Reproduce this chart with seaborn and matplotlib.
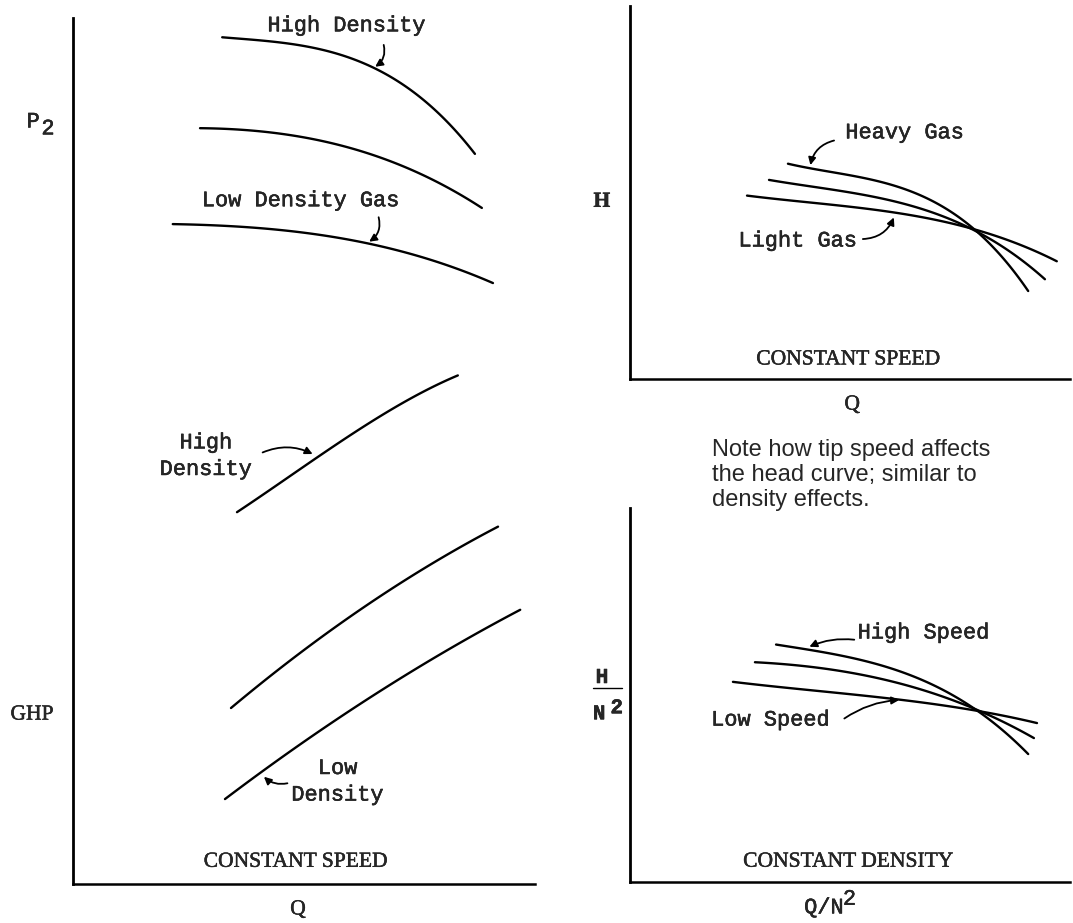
import numpy as np
import pandas as pd
import matplotlib
matplotlib.use('Agg')
import matplotlib.pyplot as plt
import matplotlib.patheffects as pe
import seaborn as sns

# ------------------------------------------------------------
# Data (schematic curves, 0-100 per panel)
# ------------------------------------------------------------

# left panel, discharge pressure vs Q
p2_high_x = [32.3, 42.6, 53.5, 64.3, 71.4, 78.8, 87.0]
p2_high_y = [97.7, 97.5, 96.3, 94.3, 92.3, 89.4, 84.2]
p2_mid_x = [27.5, 42.6, 53.5, 64.3, 75.1, 88.5]
p2_mid_y = [87.3, 86.7, 85.9, 84.4, 81.9, 78.1]
p2_low_x = [21.6, 39.0, 53.5, 64.3, 75.1, 90.9]
p2_low_y = [76.2, 75.8, 74.9, 74.0, 72.4, 69.4]

# left panel, gas horsepower vs Q
ghp_high_x = [35.5, 44.2, 52.0, 62.1, 72.9, 80.1, 83.3]
ghp_high_y = [43.0, 45.8, 49.3, 52.4, 55.9, 58.2, 58.6]
ghp_mid_x = [34.2, 44.2, 55.0, 65.8, 76.6, 83.8, 92.0]
ghp_mid_y = [20.3, 24.7, 29.0, 32.8, 36.6, 39.2, 41.1]
ghp_low_x = [32.9, 42.0, 51.3, 62.1, 72.9, 83.8, 96.8]
ghp_low_y = [9.5, 13.5, 17.4, 20.9, 24.1, 27.4, 32.0]

# top right, head vs Q at constant speed
h_heavy_x = [35.9, 49.3, 60.7, 72.0, 78.0, 84.1, 90.5]
h_heavy_y = [57.6, 55.2, 51.2, 45.3, 40.5, 33.8, 23.3]
h_mid_x = [31.6, 49.3, 64.3, 75.7, 79.5, 87.0, 94.3]
h_mid_y = [53.4, 50.1, 46.1, 41.8, 39.4, 32.7, 27.1]
h_light_x = [26.6, 41.6, 56.8, 72.0, 78.0, 87.0, 97.0]
h_light_y = [49.1, 47.5, 44.8, 42.1, 40.5, 36.5, 31.6]

# bottom right, H/N^2 vs Q/N^2 at constant density
hn_high_x = [33.2, 40.2, 53.0, 64.3, 72.0, 79.5, 84.1, 90.5]
hn_high_y = [63.4, 62.3, 59.4, 54.8, 50.5, 45.7, 41.4, 34.0]
hn_mid_x = [28.4, 45.5, 60.7, 72.0, 79.5, 86.4, 91.8]
hn_mid_y = [58.8, 56.7, 53.5, 49.2, 45.5, 42.0, 38.5]
hn_low_x = [23.4, 41.6, 60.7, 75.7, 79.5, 87.0, 92.5]
hn_low_y = [53.5, 51.3, 48.7, 46.5, 45.7, 43.9, 42.5]

note_text = "Note how tip speed affects\nthe head curve; similar to\ndensity effects."

# ------------------------------------------------------------
# Style
# ------------------------------------------------------------
sns.set_theme(style='white')
plt.rcParams['font.family'] = ['Liberation Mono', 'DejaVu Sans']

MONO = 'Liberation Mono'
SERIF = 'Liberation Serif'
SANS = 'Liberation Sans'
FS = 15.8
# typewriter print is a little heavier than Liberation Mono
heavy = [pe.withStroke(linewidth=0.35, foreground='black')]
heavy_serif = [pe.withStroke(linewidth=0.3, foreground='black')]

fig = plt.figure(figsize=(10.73, 9.23), dpi=100)
fig.patch.set_facecolor('white')

ax_l = fig.add_axes([0.0680, 0.0423, 0.4306, 0.9382])
ax_t = fig.add_axes([0.5871, 0.5894, 0.4101, 0.4041])
ax_b = fig.add_axes([0.5871, 0.0444, 0.4101, 0.4052])


def curve(ax, xs, ys, order=3):
    # smooth polynomial through the read points, drawn by seaborn
    sns.regplot(x=np.array(xs), y=np.array(ys), ax=ax, order=order, ci=None,
                scatter=False, truncate=True,
                line_kws=dict(color='black', lw=1.7))


def arrow(ax, start, end, rad):
    ax.annotate('', xy=end, xytext=start,
                arrowprops=dict(arrowstyle='-|>', color='black', lw=1.3,
                                mutation_scale=11,
                                connectionstyle=f'arc3,rad={rad}'))


def mono(ax, x, y, s, **kw):
    kw.setdefault('fontsize', FS)
    ax.text(x, y, s, family=MONO, ha='center', va='center',
            path_effects=heavy, clip_on=False, **kw)


def serif(ax, x, y, s, **kw):
    kw.setdefault('fontsize', 15.5)
    ax.text(x, y, s, family=SERIF, ha='center', va='center',
            path_effects=heavy_serif, clip_on=False, **kw)


# ------------------------------------------------------------
# Left panel
# ------------------------------------------------------------
curve(ax_l, p2_high_x, p2_high_y, 3)
curve(ax_l, p2_mid_x, p2_mid_y, 3)
curve(ax_l, p2_low_x, p2_low_y, 3)
curve(ax_l, ghp_high_x, ghp_high_y, 3)
curve(ax_l, ghp_mid_x, ghp_mid_y, 2)
curve(ax_l, ghp_low_x, ghp_low_y, 2)

mono(ax_l, 59.3, 99.1, 'High Density')
arrow(ax_l, (67.1, 97.2), (64.9, 94.2), -0.4)
mono(ax_l, 49.4, 78.9, 'Low Density Gas')
arrow(ax_l, (66.0, 77.3), (63.6, 74.0), -0.4)
mono(ax_l, 28.8, 49.4, 'High\nDensity', linespacing=1.35)
arrow(ax_l, (40.5, 49.7), (52.4, 49.5), -0.25)
mono(ax_l, 57.3, 11.8, 'Low\nDensity', linespacing=1.35)
arrow(ax_l, (47.0, 11.7), (40.9, 12.6), -0.3)
serif(ax_l, 48.1, 2.5, 'CONSTANT SPEED')
serif(ax_l, 48.7, -3.0, 'Q')
mono(ax_l, -8.6, 88.0, 'P')
mono(ax_l, -5.4, 87.2, '2')
serif(ax_l, -8.9, 19.5, 'GHP')

# ------------------------------------------------------------
# Top right panel
# ------------------------------------------------------------
curve(ax_t, h_heavy_x, h_heavy_y, 3)
curve(ax_t, h_mid_x, h_mid_y, 3)
curve(ax_t, h_light_x, h_light_y, 3)

mono(ax_t, 62.5, 66.0, 'Heavy Gas')
arrow(ax_t, (47.0, 64.1), (40.9, 56.6), 0.35)
mono(ax_t, 38.2, 37.0, 'Light Gas')
arrow(ax_t, (52.3, 37.5), (60.2, 44.0), 0.35)
serif(ax_t, 49.5, 5.1, 'CONSTANT SPEED')
serif(ax_t, 50.5, -7.0, 'Q')
serif(ax_t, -6.4, 47.5, 'H', fontweight='bold')

# ------------------------------------------------------------
# Bottom right panel
# ------------------------------------------------------------
curve(ax_b, hn_high_x, hn_high_y, 3)
curve(ax_b, hn_mid_x, hn_mid_y, 3)
curve(ax_b, hn_low_x, hn_low_y, 3)

mono(ax_b, 66.8, 66.6, 'High Speed')
arrow(ax_b, (51.6, 64.7), (40.2, 62.6), 0.15)
mono(ax_b, 32.0, 43.3, 'Low Speed')
arrow(ax_b, (48.2, 43.3), (61.8, 48.7), -0.15)
serif(ax_b, 49.5, 5.3, 'CONSTANT DENSITY')
mono(ax_b, 44.1, -6.9, 'Q/N')
mono(ax_b, 49.9, -4.6, '2')
mono(ax_b, -6.4, 54.8, 'H', fontsize=15, fontweight='bold')
ax_b.plot([-8.4, -1.8], [51.9, 51.9], color='black', lw=1.0, clip_on=False)
mono(ax_b, -7.0, 45.0, 'N', fontsize=15, fontweight='bold')
mono(ax_b, -3.0, 46.6, '2', fontsize=15, fontweight='bold')

for ax in [ax_l, ax_t, ax_b]:
    ax.set_xlim(0, 100)
    ax.set_ylim(0, 100)
    ax.set_facecolor('white')
    ax.set_xticks([])
    ax.set_yticks([])
    ax.set_xlabel('')
    ax.set_ylabel('')
    for side in ['top', 'right']:
        ax.spines[side].set_visible(False)
    ax.spines['left'].set_linewidth(2.0)
    ax.spines['bottom'].set_linewidth(1.8)
    ax.spines['left'].set_color('black')
    ax.spines['bottom'].set_color('black')

# note between the right panels
fig.text(712 / 1073, 1 - 475 / 923, note_text, family=SANS, fontsize=17,
         ha='left', va='center', linespacing=1.2)

fig.savefig('out.png', dpi=100, facecolor='white')
